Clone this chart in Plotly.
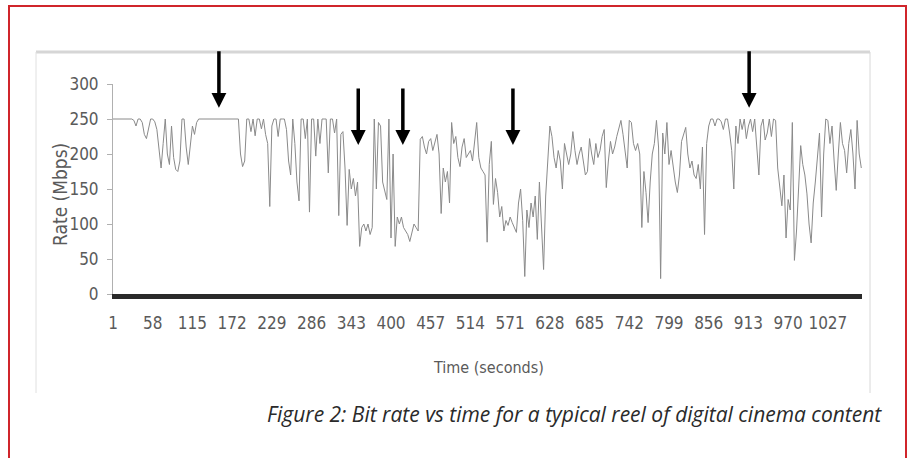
import plotly.graph_objects as go

# ---- data ----
time_start = 1          # first sample (seconds)
time_step = 3           # one reading every 3 seconds
rate_mbps = [
    250, 250, 250, 250, 250, 250, 250, 250, 250, 250, 248,
    240, 250, 250, 245, 228, 222, 235, 250, 250, 246,
    235, 205, 180, 215, 250, 200, 185, 240, 195, 178,
    175, 190, 250, 250, 210, 185, 215, 240, 228, 245,
    250, 250, 250, 250, 250, 250, 250, 250, 250, 250,
    250, 250, 250, 250, 250, 250, 250, 250, 250, 250,
    200, 182, 190, 250, 250, 232, 250, 226, 250, 250,
    236, 250, 228, 215, 125, 240, 250, 250, 225, 250,
    250, 250, 235, 190, 170, 250, 215, 160, 133, 250,
    250, 222, 250, 117, 250, 250, 197, 250, 215, 250,
    250, 250, 173, 250, 250, 230, 250, 112, 228, 232,
    180, 98, 178, 150, 165, 140, 160, 68, 95, 100,
    90, 100, 85, 95, 250, 150, 245, 240, 160, 145,
    135, 250, 80, 200, 68, 110, 100, 110, 95, 90,
    85, 75, 90, 100, 95, 90, 221, 225, 210, 200,
    218, 222, 205, 215, 228, 200, 115, 180, 160, 175,
    130, 245, 215, 225, 195, 182, 210, 222, 195, 200,
    205, 190, 215, 245, 195, 180, 175, 170, 74, 185,
    218, 128, 165, 145, 110, 125, 90, 105, 98, 110,
    102, 95, 88, 130, 150, 105, 25, 120, 95, 130,
    110, 140, 78, 160, 95, 35, 140, 200, 240, 225,
    195, 180, 205, 190, 150, 215, 200, 185, 200, 232,
    205, 185, 200, 210, 190, 170, 175, 222, 200, 185,
    215, 195, 205, 225, 235, 152, 190, 218, 200,
    210, 225, 238, 248, 228, 200, 180, 248, 245, 215,
    205, 215, 200, 95, 175, 145, 102, 160, 200, 215,
    248, 210, 22, 230, 200, 245, 185, 205, 178, 160,
    145, 170, 218, 230, 238, 200, 180, 190, 170, 165,
    185, 150, 210, 85, 215, 240, 250, 250, 240, 250,
    250, 246, 235, 250, 250, 230, 205, 150, 240, 215,
    250, 235, 250, 222, 240, 250, 232, 250, 210, 170,
    240, 250, 220, 230, 250, 225, 250, 248, 180, 150,
    126, 170, 80, 135, 120, 245, 48, 90, 150, 212,
    185, 170, 143, 100, 73, 130, 160, 200, 230, 110,
    200, 250, 248, 215, 240, 190, 148, 200, 245, 215,
    205, 173, 215, 235, 200, 150, 248, 200, 180,
]
x_tick_labels = [1, 58, 115, 172, 229, 286, 343, 400, 457, 514,
                 571, 628, 685, 742, 799, 856, 913, 970, 1027]
y_tick_values = [0, 50, 100, 150, 200, 250, 300]
arrow_times = [153, 353, 417, 575, 914]
arrow_tip_rates = [266, 213, 213, 213, 266]

title_y = "Rate (Mbps)"
title_x = "Time (seconds)"
caption = "Figure 2: Bit rate vs time for a typical reel of digital cinema content"

time_s = [time_start + time_step * i for i in range(len(rate_mbps))]

# ---- layout geometry (pixels) ----
W, H = 911, 458
ML, MR, MT, MB = 113, 49, 84, 164
PW, PH = W - ML - MR, H - MT - MB


def px(x):
    return (x - ML) / PW


def py(y):
    return (H - MB - y) / PH


NARROW = "DejaVu Sans Condensed, Liberation Sans Narrow, Liberation Sans, Arial"
TICK_FONT = dict(family=NARROW, size=17, color="#5a5a5a")

fig = go.Figure()
fig.add_trace(go.Scatter(
    x=time_s, y=rate_mbps, mode="lines",
    line=dict(color="#8a8a8a", width=1),
    showlegend=False, hoverinfo="skip", cliponaxis=False,
))

annotations = []
for t, r in zip(arrow_times, arrow_tip_rates):
    annotations.append(dict(
        x=t, y=r, xref="x", yref="y", text="", showarrow=True,
        ax=0, ay=-58, arrowhead=2, arrowsize=0.85, arrowwidth=3.5,
        arrowcolor="#000000",
    ))
annotations += [
    dict(text=title_y, xref="paper", yref="paper", x=px(60), y=py(195),
         textangle=-90, showarrow=False, xanchor="center", yanchor="middle",
         font=dict(family=NARROW, size=19, color="#5a5a5a")),
    dict(text=title_x, xref="paper", yref="paper", x=px(488), y=py(367),
         showarrow=False, xanchor="center", yanchor="middle",
         font=dict(family=NARROW, size=16, color="#5a5a5a")),
    dict(text="<i>" + caption + "</i>", xref="paper", yref="paper", x=px(884), y=py(414),
         showarrow=False, xanchor="right", yanchor="middle",
         font=dict(family="Open Sans", size=21, color="#2a2a2a")),
]

shapes = [
    # red outer frame
    dict(type="rect", xref="paper", yref="paper", x0=px(9), x1=px(906), y0=py(475), y1=py(6),
         line=dict(color="#d0252b", width=2), fillcolor="rgba(0,0,0,0)", layer="above"),
    # light chart panel
    dict(type="line", xref="paper", yref="paper", x0=px(36), x1=px(870), y0=py(52), y1=py(52),
         line=dict(color="#d6d6d6", width=3)),
    dict(type="line", xref="paper", yref="paper", x0=px(36), x1=px(36), y0=py(52), y1=py(393),
         line=dict(color="#e0e0e0", width=1)),
    dict(type="line", xref="paper", yref="paper", x0=px(870), x1=px(870), y0=py(52), y1=py(393),
         line=dict(color="#d8d8d8", width=1)),
]

fig.update_layout(
    width=W, height=H,
    margin=dict(l=ML, r=MR, t=MT, b=MB, pad=0),
    paper_bgcolor="white", plot_bgcolor="white",
    showlegend=False,
    annotations=annotations,
    shapes=shapes,
    xaxis=dict(
        range=[1, 1076], tickmode="array", tickvals=x_tick_labels,
        ticktext=[str(v) for v in x_tick_labels],
        showgrid=False, zeroline=False, ticks="",
        showline=True, linecolor="#2a2a2a", linewidth=5,
        tickfont=TICK_FONT, ticklabelstandoff=10,
    ),
    yaxis=dict(
        range=[0, 300], tickmode="array", tickvals=y_tick_values,
        showgrid=False, zeroline=False, ticks="outside", ticklen=5,
        tickcolor="#b0b0b0", tickwidth=1,
        showline=True, linecolor="#b0b0b0", linewidth=1,
        tickfont=TICK_FONT, ticklabelstandoff=5,
    ),
)

fig.write_html("out.html")
